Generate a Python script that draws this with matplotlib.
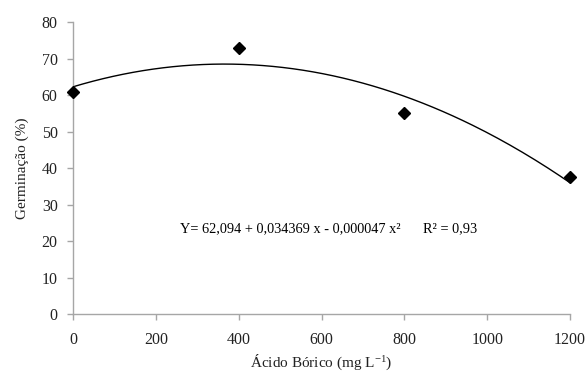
import numpy as np
import matplotlib
matplotlib.use("Agg")
import matplotlib.pyplot as plt

plt.rcParams["font.family"] = ["Liberation Serif", "DejaVu Serif"]
plt.rcParams["mathtext.fontset"] = "custom"
plt.rcParams["mathtext.rm"] = "Liberation Serif"
plt.rcParams["mathtext.it"] = "Liberation Serif:italic"

# dados
acido_borico = [0, 400, 800, 1200]
germinacao = [60.8, 73.0, 55.2, 37.5]

# texto da equacao mostrada
equacao = "Y= 62,094 + 0,034369 x - 0,000047 x²"
r2 = "R² = 0,93"

fig = plt.figure(figsize=(5.85, 3.76), dpi=100)
ax = fig.add_axes([0.1248, 0.165, 0.8496, 0.7757])

# linha de tendencia (ajuste polinomial de grau 2)
coef = np.polyfit(acido_borico, germinacao, 2)
xs = np.linspace(0, 1200, 200)
ax.plot(xs, np.polyval(coef, xs), color="black", lw=1.0)

ax.plot(acido_borico, germinacao, linestyle="none", marker="D", ms=6.5,
        color="black", clip_on=False, zorder=3)

ax.set_xlim(0, 1200)
ax.set_ylim(0, 80)
ax.set_xticks(range(0, 1201, 200))
ax.set_yticks(range(0, 81, 10))

for s in ["top", "right"]:
    ax.spines[s].set_visible(False)
for s in ["left", "bottom"]:
    ax.spines[s].set_color("#a6a6a6")
    ax.spines[s].set_linewidth(1.0)
ax.tick_params(colors="#a6a6a6", labelcolor="#222222", labelsize=11.5,
               length=4, width=1.0)
ax.tick_params(axis="x", pad=9)
ax.tick_params(axis="y", pad=7)

ax.set_xlabel("Ácido Bórico (mg L$^{\\mathrm{-1}}$)", fontsize=11, color="#222222",
              labelpad=3)
ax.set_ylabel("Germinação (%)", fontsize=11, color="#222222", labelpad=9)

ax.text(258, 23.4, equacao, fontsize=10.3, va="center", ha="left", color="black")
ax.text(845, 23.4, r2, fontsize=10.3, va="center", ha="left", color="black")

fig.savefig("out.png", dpi=100)
